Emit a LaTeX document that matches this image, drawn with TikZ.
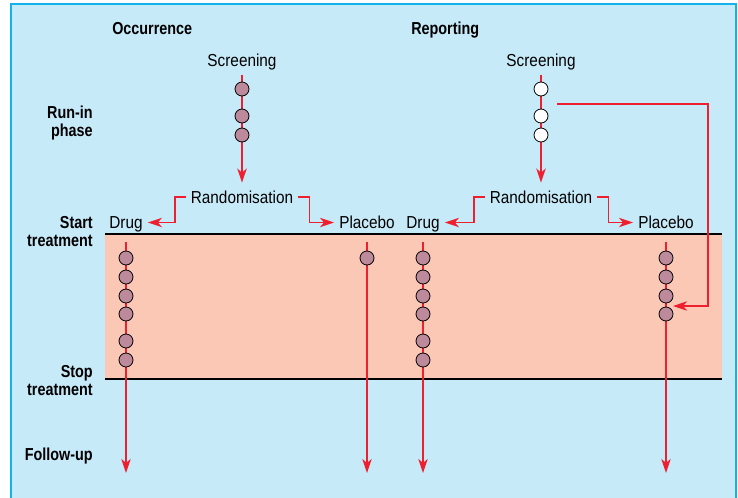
\documentclass[tikz,border=0pt]{standalone}
\usepackage{fontspec}
\setmainfont{Liberation Sans}[FakeStretch=0.885,BoldFeatures={FakeStretch=0.83}]
\usetikzlibrary{arrows.meta}
\definecolor{skyback}{HTML}{C7EAF9}
\definecolor{skyedge}{HTML}{12B2EC}
\definecolor{bandpink}{HTML}{FAC8B4}
\definecolor{flowred}{HTML}{EE1F2F}
\definecolor{dotmauve}{HTML}{BC8A9A}
\begin{document}
\begin{tikzpicture}[x=0.75pt,y=-0.75pt,
	flow/.style={draw=flowred,line width=1.4pt,-{Stealth[length=10.5pt,width=7pt,inset=3pt]}},
	pt/.style={circle,draw=black,line width=0.6pt,fill=dotmauve,minimum size=10.5pt,inner sep=0pt},
	wpt/.style={pt,fill=white},
	word/.style={font=\fontsize{13}{15}\selectfont,text height=9.3pt,text depth=0pt,inner xsep=3.75pt,inner ysep=6pt},
	head/.style={font=\bfseries\fontsize{13}{15}\selectfont,inner sep=0pt}]
			\useasboundingbox (0,0) rectangle (738,497);
			\clip (0,0) rectangle (738,497);
			\draw[draw=skyedge,line width=1.5pt,fill=skyback] (11,4) rectangle (736,520);
			\fill[bandpink] (105,234) rectangle (722,379);
			\draw[line width=0.9pt] (105,234) -- (722,234);
			\draw[line width=0.9pt] (105,379) -- (722,379);
			\node[head,anchor=base west] (occ) at (112,34) {Occurrence};
			\node[head,anchor=base west] (rep) at (411,34) {Reporting};
			\node[head,anchor=base east] (runin) at (93,118.5) {Run-in};
			\node[head,anchor=base east] (phase) at (93,136) {phase};
			\node[head,anchor=base east] (start) at (93,228.7) {Start};
			\node[head,anchor=base east] (startb) at (93,246) {treatment};
			\node[head,anchor=base east] (stop) at (93,377.7) {Stop};
			\node[head,anchor=base east] (stopb) at (93,395) {treatment};
			\node[head,anchor=base east] (follow) at (93,460) {Follow-up};
			\node[word] (scrA) at (242,60.5) {Screening};
			\node[word] (randA) at (242,197.1) {Randomisation};
			\node[word] (drugA) at (126,222.5) {Drug};
			\node[word] (placA) at (367,222.5) {Placebo};
			\node[word] (scrB) at (541,60.5) {Screening};
			\node[word] (randB) at (541,197.1) {Randomisation};
			\node[word] (drugB) at (423,222.5) {Drug};
			\node[word] (placB) at (666,222.5) {Placebo};
			\coordinate (endDA) at (126,473);
			\coordinate (endPA) at (367,473);
			\coordinate (endDB) at (423,473);
			\coordinate (endPB) at (666,473);
			\coordinate (fbA) at (557,104);
			\coordinate (fbB) at (673,306);
			\draw[flow] (scrA) -- (randA);
			\draw[flow] (randA.west) -- ++(-11,0) |- (drugA.east);
			\draw[flow] (randA.east) -- ++(11,0) |- (placA.west);
			\draw[flow] (scrB) -- (randB);
			\draw[flow] (randB.west) -- ++(-11,0) |- (drugB.east);
			\draw[flow] (randB.east) -- ++(11,0) |- (placB.west);
			\draw[flow,shorten <=3.75pt] (drugA) -- (endDA);
			\draw[flow,shorten <=3.75pt] (placA) -- (endPA);
			\draw[flow,shorten <=3.75pt] (drugB) -- (endDB);
			\draw[flow,shorten <=3.75pt] (placB) -- (endPB);
			\draw[flow] (fbA) -- ++(151,0) |- (fbB);
			\node[pt] (rA1) at (242,89) {};
			\node[pt] (rA2) at (242,116) {};
			\node[pt] (rA3) at (242,135) {};
			\node[wpt] (rB1) at (541,89) {};
			\node[wpt] (rB2) at (541,116) {};
			\node[wpt] (rB3) at (541,135) {};
			\node[pt] (dA1) at (126,258) {};
			\node[pt] (dA2) at (126,277) {};
			\node[pt] (dA3) at (126,296) {};
			\node[pt] (dA4) at (126,314) {};
			\node[pt] (dA5) at (126,341) {};
			\node[pt] (dA6) at (126,360) {};
			\node[pt] (pA1) at (367,258) {};
			\node[pt] (dB1) at (423,258) {};
			\node[pt] (dB2) at (423,277) {};
			\node[pt] (dB3) at (423,296) {};
			\node[pt] (dB4) at (423,314) {};
			\node[pt] (dB5) at (423,341) {};
			\node[pt] (dB6) at (423,360) {};
			\node[pt] (pB1) at (666,258) {};
			\node[pt] (pB2) at (666,277) {};
			\node[pt] (pB3) at (666,296) {};
			\node[pt] (pB4) at (666,314) {};
		\end{tikzpicture}
\end{document}
